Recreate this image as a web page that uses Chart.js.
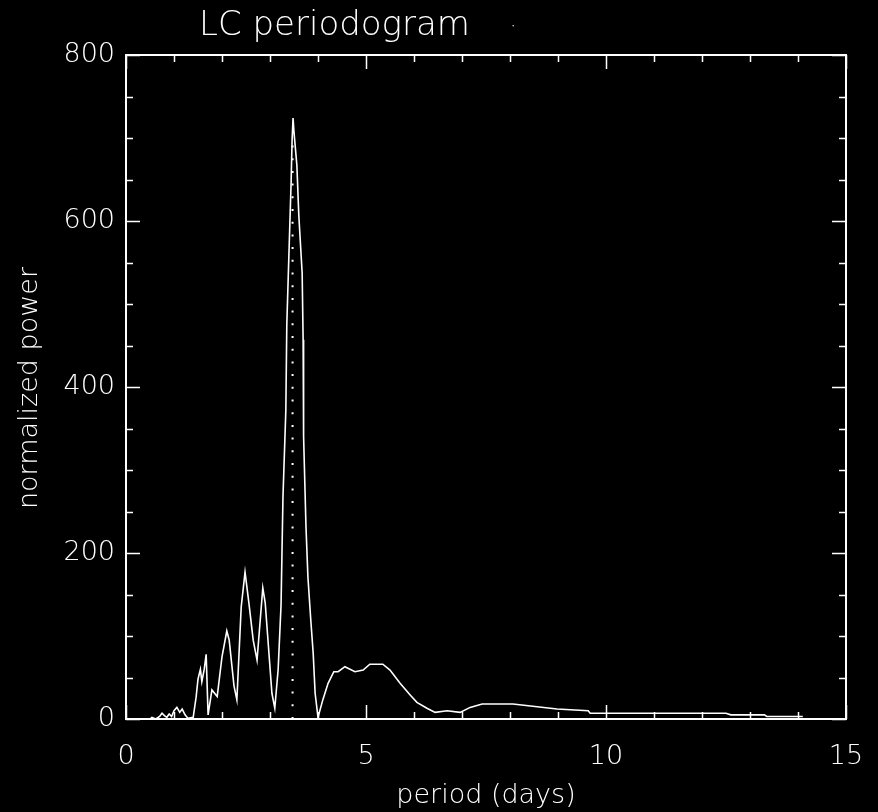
<!DOCTYPE html>
<html>
<head>
<meta charset="utf-8">
<script src="https://cdn.jsdelivr.net/npm/chart.js@4/dist/chart.umd.min.js"></script>
<style>
  html, body { margin: 0; padding: 0; background: #000; }
  canvas { display: block; }
</style>
</head>
<body>
<canvas id="periodChart" width="878" height="812"></canvas>
<script>
// Periodogram trace (period in days, normalized power)
const period = [
    0.50, 0.54, 0.62, 0.70, 0.75, 0.80, 0.85, 0.90, 0.95, 1.00,
    1.06, 1.12, 1.17, 1.23, 1.29, 1.40, 1.46, 1.50, 1.55, 1.58,
    1.63, 1.67, 1.71, 1.79, 1.90, 2.00, 2.10, 2.15, 2.25, 2.31,
    2.40, 2.48, 2.56, 2.65, 2.73, 2.85, 2.90, 3.04, 3.10, 3.17,
    3.23, 3.27, 3.33, 3.35, 3.40, 3.44, 3.46, 3.48, 3.50, 3.56,
    3.60, 3.67, 3.69, 3.70, 3.75, 3.79, 3.85, 3.90, 3.94, 4.00,
    4.10, 4.21, 4.33, 4.42, 4.56, 4.77, 4.94, 5.08, 5.35, 5.50,
    5.71, 5.92, 6.06, 6.27, 6.44, 6.69, 6.96, 7.17, 7.42, 8.06,
    8.52, 8.98, 9.63, 9.67, 12.50, 12.60, 13.30, 13.35, 14.10
];
const power = [
    0, 2, 0, 3, 7, 4, 2, 6, 3, 10,
    14, 8, 12, 5, 1, 2, 26, 48, 60, 45,
    60, 78, 5, 35, 27, 75, 106, 95, 40, 23,
    135, 177, 140, 95, 71, 158, 140, 31, 13, 60,
    137, 267, 372, 475, 571, 647, 697, 724, 707, 667,
    607, 537, 457, 340, 231, 171, 119, 79, 31, 2,
    23, 43, 57, 57, 63, 57, 59, 66, 66, 59,
    43, 29, 20, 13, 8, 10, 8, 14, 18, 18,
    15, 12, 10, 7, 7, 5, 5, 3, 3
];

// Best period marker (dotted vertical line)
const bestPeriod = 3.47;
const markerPower = [0, 700];

const xTicks = [0, 5, 10, 15];
const yTicks = [0, 200, 400, 600, 800];

const FONT = 'DejaVu Sans';
const INK = '#ffffff';

const idlFrame = {
    id: 'idlFrame',
    beforeDraw(chart) {
        const ctx = chart.ctx;
        ctx.save();
        ctx.fillStyle = '#000';
        ctx.fillRect(0, 0, chart.width, chart.height);
        ctx.restore();
    },
    afterDraw(chart) {
        const ctx = chart.ctx;
        const a = chart.chartArea;
        const xs = chart.scales.x;
        const ys = chart.scales.y;
        ctx.save();
        ctx.strokeStyle = INK;
        ctx.lineWidth = 2;
        ctx.strokeRect(a.left, a.top, a.right - a.left, a.bottom - a.top);

        // inward ticks, all four sides
        ctx.lineWidth = 1.5;
        ctx.beginPath();
        for (let v = 0; v <= 15; v++) {
            const px = Math.round(xs.getPixelForValue(v)) + 0.5;
            const len = v % 5 === 0 ? 14 : 7;
            ctx.moveTo(px, a.bottom); ctx.lineTo(px, a.bottom - len);
            ctx.moveTo(px, a.top); ctx.lineTo(px, a.top + len);
        }
        for (let v = 0; v <= 800; v += 50) {
            const py = Math.round(ys.getPixelForValue(v)) + 0.5;
            const len = v % 200 === 0 ? 14 : 7;
            ctx.moveTo(a.left, py); ctx.lineTo(a.left + len, py);
            ctx.moveTo(a.right, py); ctx.lineTo(a.right - len, py);
        }
        ctx.stroke();

        // titles
        ctx.fillStyle = INK;
        ctx.textBaseline = 'middle';
        ctx.font = `200 34px "${FONT}"`;
        ctx.textAlign = 'left';
        ctx.fillText('LC periodogram', 199, 26);
        ctx.font = `200 20px "${FONT}"`;
        ctx.fillText('·', 510, 27);

        ctx.font = `200 27px "${FONT}"`;
        ctx.textAlign = 'center';
        ctx.fillText('period (days)', 486, 796);

        ctx.translate(30, 388);
        ctx.rotate(-Math.PI / 2);
        ctx.fillText('normalized power', 0, 0);
        ctx.restore();
    }
};

new Chart(document.getElementById('periodChart').getContext('2d'), {
    type: 'line',
    data: {
        datasets: [{
            data: period.map((p, i) => ({ x: p, y: power[i] })),
            borderColor: INK,
            borderWidth: 1.6,
            pointRadius: 0,
            tension: 0,
            fill: false
        }, {
            data: markerPower.map(v => ({ x: bestPeriod, y: v })),
            borderColor: INK,
            borderWidth: 2,
            borderDash: [2, 10.7],
            pointRadius: 0,
            fill: false
        }]
    },
    options: {
        responsive: false,
        devicePixelRatio: 1,
        animation: false,
        layout: { padding: { top: 55, right: 32, left: 0, bottom: 0 } },
        plugins: {
            legend: { display: false },
            tooltip: { enabled: false }
        },
        scales: {
            x: {
                type: 'linear',
                min: 0,
                max: 15,
                afterBuildTicks: s => { s.ticks = xTicks.map(v => ({ value: v })); },
                afterFit: s => {
                    s.height = 93;
                    s.paddingLeft = 0;
                    s.paddingRight = 0;
                },
                grid: { display: false, drawTicks: false },
                border: { display: false },
                ticks: {
                    color: INK,
                    padding: 22,
                    maxRotation: 0,
                    font: { family: FONT, size: 27, weight: '200' }
                }
            },
            y: {
                type: 'linear',
                min: 0,
                max: 800,
                afterBuildTicks: s => { s.ticks = yTicks.map(v => ({ value: v })); },
                afterFit: s => {
                    s.width = 126;
                    s.paddingTop = 0;
                    s.paddingBottom = 0;
                },
                grid: { display: false, drawTicks: false },
                border: { display: false },
                ticks: {
                    color: INK,
                    padding: 11,
                    font: { family: FONT, size: 27, weight: '200' }
                }
            }
        }
    },
    plugins: [idlFrame]
});
</script>
</body>
</html>
